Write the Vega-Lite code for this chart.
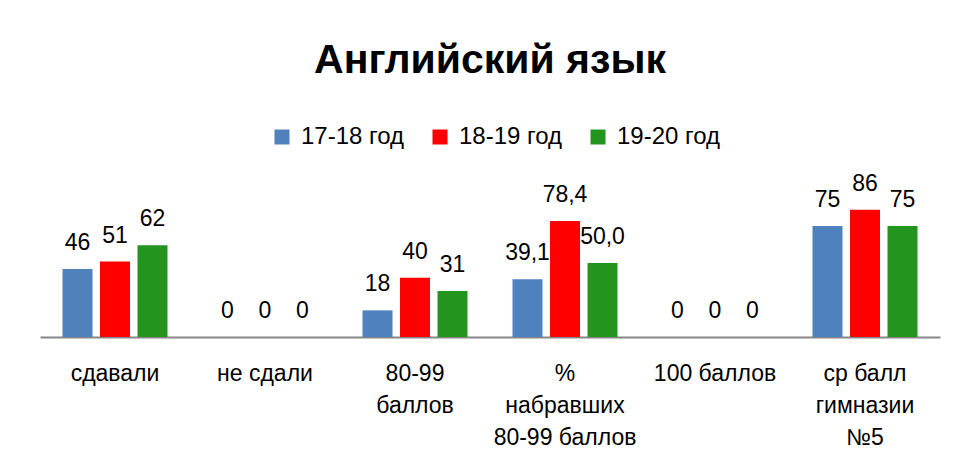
{
  "$schema": "https://vega.github.io/schema/vega-lite/v6.json",
  "width": 900,
  "height": 148,
  "autosize": "none",
  "padding": {"left": 40, "top": 189, "right": 18, "bottom": 122},
  "background": "white",
  "title": {
    "text": "Английский язык",
    "anchor": "middle",
    "frame": "group",
    "font": "Liberation Sans",
    "fontSize": 41,
    "fontWeight": "bold",
    "color": "#000000",
    "baseline": "alphabetic",
    "offset": 11
  },
  "config": {
    "view": {"stroke": null},
    "font": "Liberation Sans"
  },
  "data": {
    "values": [
      {"category": "сдавали", "year": "17-18 год", "value": 46, "label": "46"},
      {"category": "сдавали", "year": "18-19 год", "value": 51, "label": "51"},
      {"category": "сдавали", "year": "19-20 год", "value": 62, "label": "62"},
      {"category": "не сдали", "year": "17-18 год", "value": 0, "label": "0"},
      {"category": "не сдали", "year": "18-19 год", "value": 0, "label": "0"},
      {"category": "не сдали", "year": "19-20 год", "value": 0, "label": "0"},
      {"category": "80-99 баллов", "year": "17-18 год", "value": 18, "label": "18"},
      {"category": "80-99 баллов", "year": "18-19 год", "value": 40, "label": "40"},
      {"category": "80-99 баллов", "year": "19-20 год", "value": 31, "label": "31"},
      {"category": "% набравших 80-99 баллов", "year": "17-18 год", "value": 39.1, "label": "39,1"},
      {"category": "% набравших 80-99 баллов", "year": "18-19 год", "value": 78.4, "label": "78,4"},
      {"category": "% набравших 80-99 баллов", "year": "19-20 год", "value": 50.0, "label": "50,0"},
      {"category": "100 баллов", "year": "17-18 год", "value": 0, "label": "0"},
      {"category": "100 баллов", "year": "18-19 год", "value": 0, "label": "0"},
      {"category": "100 баллов", "year": "19-20 год", "value": 0, "label": "0"},
      {"category": "ср балл гимназии №5", "year": "17-18 год", "value": 75, "label": "75"},
      {"category": "ср балл гимназии №5", "year": "18-19 год", "value": 86, "label": "86"},
      {"category": "ср балл гимназии №5", "year": "19-20 год", "value": 75, "label": "75"}
    ]
  },
  "encoding": {
    "x": {
      "field": "category",
      "type": "nominal",
      "sort": null,
      "scale": {"paddingInner": 0, "paddingOuter": 0},
      "axis": {
        "title": null,
        "labelAngle": 0,
        "ticks": false,
        "domainColor": "#868686",
        "domainWidth": 2,
        "labelFont": "Liberation Sans",
        "labelFontSize": 23,
        "labelColor": "#000000",
        "labelBaseline": "alphabetic",
        "labelPadding": 43,
        "labelLineHeight": 32,
        "labelLimit": 0,
        "labelExpr": "datum.value == '80-99 баллов' ? ['80-99', 'баллов'] : datum.value == '% набравших 80-99 баллов' ? ['%', 'набравших', '80-99 баллов'] : datum.value == 'ср балл гимназии №5' ? ['ср балл', 'гимназии', '№5'] : datum.value"
      }
    },
    "xOffset": {
      "field": "year",
      "type": "nominal",
      "scale": {"paddingInner": 0.2, "paddingOuter": 0.6}
    },
    "y": {
      "field": "value",
      "type": "quantitative",
      "scale": {"domain": [0, 100], "nice": false},
      "axis": null
    }
  },
  "layer": [
    {
      "mark": {"type": "bar"},
      "encoding": {
        "color": {
          "field": "year",
          "type": "nominal",
          "scale": {
            "domain": ["17-18 год", "18-19 год", "19-20 год"],
            "range": ["#4F81BD", "#FF0000", "#23951E"]
          },
          "legend": {
            "title": null,
            "orient": "none",
            "direction": "horizontal",
            "legendX": 230,
            "legendY": -64,
            "symbolType": "square",
            "symbolSize": 225,
            "symbolStrokeWidth": 0,
            "labelFont": "Liberation Sans",
            "labelFontSize": 24,
            "labelColor": "#000000",
            "labelOffset": 7,
            "columnPadding": 23
          }
        }
      }
    },
    {
      "mark": {
        "type": "text",
        "baseline": "alphabetic",
        "dy": -19,
        "fontSize": 23,
        "font": "Liberation Sans",
        "color": "#000000"
      },
      "encoding": {
        "text": {"field": "label"}
      }
    }
  ]
}
